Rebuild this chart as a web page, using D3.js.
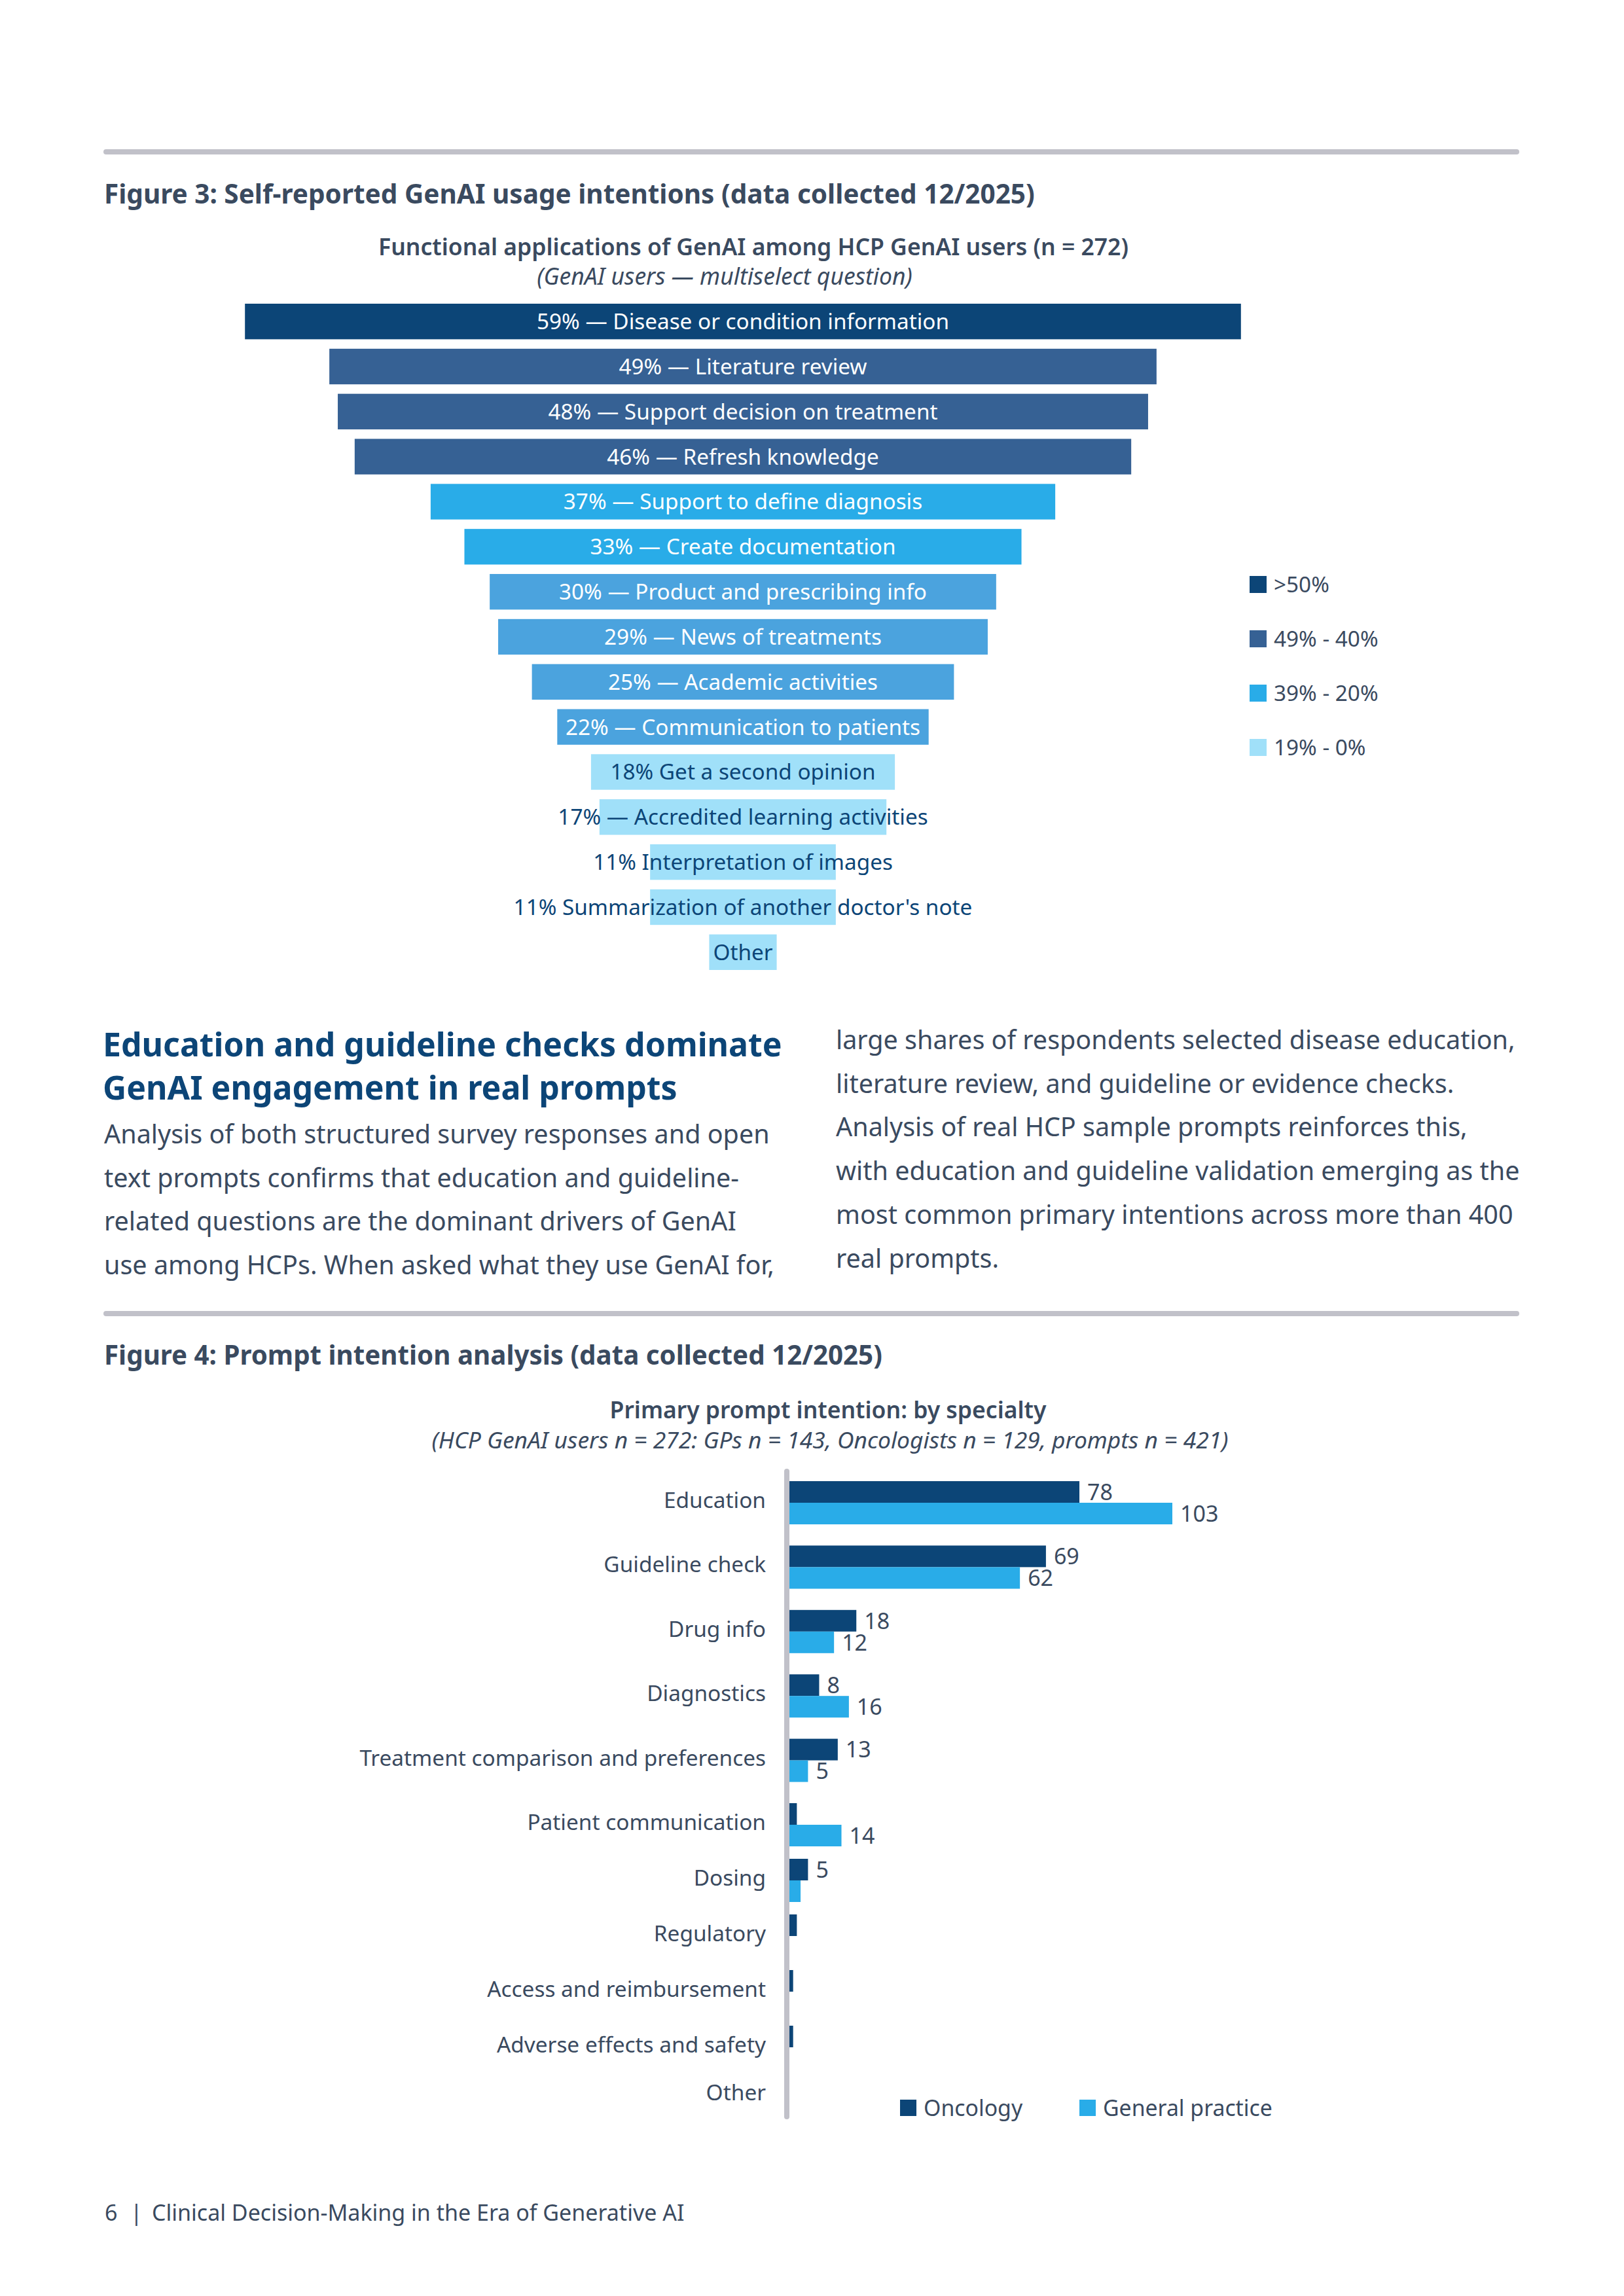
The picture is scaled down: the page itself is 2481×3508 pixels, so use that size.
<!DOCTYPE html>
<html>
<head>
<meta charset="utf-8">
<script src="https://cdn.jsdelivr.net/npm/d3@7"></script>
<style>
  body { margin: 0; background: #fff; }
  svg { display: block; font-family: "Noto Sans", sans-serif; }
</style>
</head>
<body>
<div id="page"></div>
<script>
// Figure 3 data
const funnelLabels = [
  "59% \u2014 Disease or condition information",
  "49% \u2014 Literature review",
  "48% \u2014 Support decision on treatment",
  "46% \u2014 Refresh knowledge",
  "37% \u2014 Support to define diagnosis",
  "33% \u2014 Create documentation",
  "30% \u2014 Product and prescribing info",
  "29% \u2014 News of treatments",
  "25% \u2014 Academic activities",
  "22% \u2014 Communication to patients",
  "18% Get a second opinion",
  "17% \u2014 Accredited learning activities",
  "11% Interpretation of images",
  "11% Summarization of another doctor's note",
  "Other"
];
const funnelValues = [59, 49, 48, 46, 37, 33, 30, 29, 25, 22, 18, 17, 11, 11, 4];
const funnelLegend = [">50%", "49% - 40%", "39% - 20%", "19% - 0%"];

// Figure 4 data
const intentCategories = [
  "Education", "Guideline check", "Drug info", "Diagnostics",
  "Treatment comparison and preferences", "Patient communication", "Dosing",
  "Regulatory", "Access and reimbursement", "Adverse effects and safety", "Other"
];
const oncologyValues = [78, 69, 18, 8, 13, 2, 5, 2, 1, 1, 0];
const gpValues = [103, 62, 12, 16, 5, 14, 3, 0, 0, 0, 0];
const seriesNames = ["Oncology", "General practice"];

const bodyLeft = [
  "Analysis of both structured survey responses and open",
  "text prompts confirms that education and guideline-",
  "related questions are the dominant drivers of GenAI",
  "use among HCPs. When asked what they use GenAI for,"
];
const bodyRight = [
  "large shares of respondents selected disease education,",
  "literature review, and guideline or evidence checks.",
  "Analysis of real HCP sample prompts reinforces this,",
  "with education and guideline validation emerging as the",
  "most common primary intentions across more than 400",
  "real prompts."
];

const W = 2481, H = 3508;
const navy = "#0c4577", steel = "#366194", bright = "#29ace8", mid = "#4ba3de", pale = "#a0e0f9";
const grey = "#3a4a5f", rule = "#c1c1c9";

const svg = d3.select("#page").append("svg")
  .attr("width", W).attr("height", H)
  .attr("viewBox", [0, 0, W, H]);

// section rules
[232, 2007].forEach(y => {
  svg.append("line")
    .attr("x1", 162).attr("x2", 2317).attr("y1", y).attr("y2", y)
    .attr("stroke", rule).attr("stroke-width", 8).attr("stroke-linecap", "round");
});

// ---------- Figure 3 ----------
svg.append("text").attr("x", 159).attr("y", 311)
  .attr("font-size", 40.5).attr("font-weight", 700).attr("fill", grey)
  .text("Figure 3: Self-reported GenAI usage intentions (data collected 12/2025)");

svg.append("text").attr("x", 1151).attr("y", 390).attr("text-anchor", "middle")
  .attr("font-size", 35.5).attr("font-weight", 600).attr("fill", grey)
  .text("Functional applications of GenAI among HCP GenAI users (n = 272)");

svg.append("text").attr("x", 1107).attr("y", 435).attr("text-anchor", "middle")
  .attr("font-size", 35.5).attr("font-style", "italic").attr("fill", grey)
  .text("(GenAI users \u2014 multiselect question)");

const cx = 1135;
const fx = d3.scaleLinear().domain([0, 100]).range([0, 2579]);
const fy = d3.scaleBand().domain(d3.range(funnelValues.length))
  .range([464, 1482]).paddingInner(0.21);
const tier = d3.scaleThreshold().domain([20, 31, 40, 50])
  .range([pale, mid, bright, steel, navy]);

const funnel = svg.append("g");
funnel.selectAll("rect")
  .data(funnelValues)
  .join("rect")
  .attr("x", d => cx - fx(d) / 2)
  .attr("y", (d, i) => fy(i))
  .attr("width", d => fx(d))
  .attr("height", fy.bandwidth())
  .attr("fill", d => tier(d));

funnel.selectAll("text")
  .data(funnelValues)
  .join("text")
  .attr("x", cx)
  .attr("y", (d, i) => fy(i) + fy.bandwidth() / 2)
  .attr("dy", "0.36em")
  .attr("text-anchor", "middle")
  .attr("font-size", 33.3)
  .attr("fill", d => d < 20 ? navy : "#fff")
  .text((d, i) => funnelLabels[i]);

const legendColors = [navy, steel, bright, pale];
const ly = d3.scalePoint().domain(funnelLegend).range([880, 1129]);
const leg1 = svg.append("g");
leg1.selectAll("rect").data(funnelLegend).join("rect")
  .attr("x", 1909).attr("y", d => ly(d))
  .attr("width", 26).attr("height", 26)
  .attr("fill", (d, i) => legendColors[i]);
leg1.selectAll("text").data(funnelLegend).join("text")
  .attr("x", 1946).attr("y", d => ly(d) + 13).attr("dy", "0.36em")
  .attr("font-size", 33.3).attr("fill", grey)
  .text(d => d);

// ---------- text section ----------
svg.append("text").attr("x", 157).attr("font-size", 50).attr("font-weight", 700).attr("fill", navy)
  .selectAll("tspan")
  .data(["Education and guideline checks dominate", "GenAI engagement in real prompts"])
  .join("tspan")
  .attr("x", 157).attr("y", (d, i) => 1614 + i * 66)
  .text(d => d);

svg.append("g").selectAll("text").data(bodyLeft).join("text")
  .attr("x", 159).attr("y", (d, i) => 1747 + i * 66.7)
  .attr("font-size", 39.5).attr("fill", grey).text(d => d);

svg.append("g").selectAll("text").data(bodyRight).join("text")
  .attr("x", 1277).attr("y", (d, i) => 1603 + i * 66.7)
  .attr("font-size", 39.5).attr("fill", grey).text(d => d);

// ---------- Figure 4 ----------
svg.append("text").attr("x", 159).attr("y", 2085)
  .attr("font-size", 40.3).attr("font-weight", 700).attr("fill", grey)
  .text("Figure 4: Prompt intention analysis (data collected 12/2025)");

svg.append("text").attr("x", 1265).attr("y", 2167).attr("text-anchor", "middle")
  .attr("font-size", 35.5).attr("font-weight", 600).attr("fill", grey)
  .text("Primary prompt intention: by specialty");

svg.append("text").attr("x", 1268).attr("y", 2213).attr("text-anchor", "middle")
  .attr("font-size", 35.4).attr("font-style", "italic").attr("fill", grey)
  .text("(HCP GenAI users n = 272: GPs n = 143, Oncologists n = 129, prompts n = 421)");

const bx = d3.scaleLinear().domain([0, 103]).range([1206, 1791]);
// row tops: lower rows are packed tighter in the original
const by = d3.scaleLinear().domain([0, 5, 10]).range([2263, 2755, 3180]);
const sub = d3.scaleBand().domain(seriesNames).range([0, 66]);
const seriesColors = d3.scaleOrdinal().domain(seriesNames).range([navy, bright]);

const rows = intentCategories.map((c, i) => ({
  cat: c, i,
  vals: [
    { s: seriesNames[0], v: oncologyValues[i] },
    { s: seriesNames[1], v: gpValues[i] }
  ]
}));

const chart = svg.append("g");
const rowG = chart.selectAll("g.row").data(rows).join("g")
  .attr("class", "row")
  .attr("transform", d => `translate(0,${by(d.i)})`);

rowG.append("text")
  .attr("x", 1170).attr("y", d => d.i === intentCategories.length - 1 ? sub.step() - 16 : sub.step() - 4)
  .attr("dy", "0.36em")
  .attr("text-anchor", "end").attr("font-size", 33.4).attr("fill", grey)
  .text(d => d.cat);

rowG.selectAll("rect").data(d => d.vals.filter(v => v.v > 0)).join("rect")
  .attr("x", bx(0))
  .attr("y", d => sub(d.s))
  .attr("width", d => bx(d.v) - bx(0))
  .attr("height", sub.bandwidth())
  .attr("fill", d => seriesColors(d.s));

rowG.selectAll("text.val").data(d => d.vals.filter(v => v.v >= 5)).join("text")
  .attr("class", "val")
  .attr("x", d => bx(d.v) + 12)
  .attr("y", d => sub(d.s) + sub.bandwidth() / 2).attr("dy", "0.36em")
  .attr("font-size", 34).attr("fill", grey)
  .text(d => d.v);

// axis line
chart.append("line")
  .attr("x1", 1202).attr("x2", 1202).attr("y1", 2248).attr("y2", 3234)
  .attr("stroke", rule).attr("stroke-width", 8).attr("stroke-linecap", "round");

const lx = d3.scaleOrdinal().domain(seriesNames).range([1375, 1649]);
const leg2 = svg.append("g");
leg2.selectAll("rect").data(seriesNames).join("rect")
  .attr("x", d => lx(d)).attr("y", 3208).attr("width", 25).attr("height", 25)
  .attr("fill", d => seriesColors(d));
leg2.selectAll("text").data(seriesNames).join("text")
  .attr("x", d => lx(d) + 36).attr("y", 3233)
  .attr("font-size", 33.8).attr("fill", grey).text(d => d);

// footer
const footer = svg.append("g").attr("font-size", 34).attr("fill", grey);
footer.append("text").attr("x", 160).attr("y", 3393).text("6");
footer.append("text").attr("x", 199).attr("y", 3393).text("|");
footer.append("text").attr("x", 232).attr("y", 3393)
  .text("Clinical Decision-Making in the Era of Generative AI");
</script>
</body>
</html>
